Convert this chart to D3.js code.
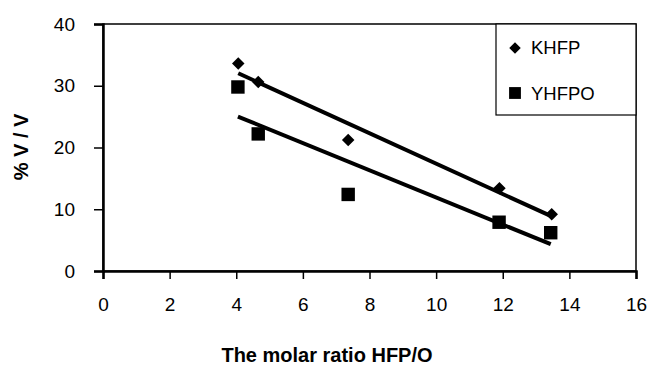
<!DOCTYPE html>
<html><head><meta charset="utf-8">
<script src="https://cdn.jsdelivr.net/npm/d3@7"></script>
<style>body{margin:0;background:#fff}svg{display:block}text{font-family:"Liberation Sans",Arial,sans-serif}</style>
</head><body>
<svg id="c" width="647" height="365"></svg>
<script>
const khfpX = [4.06, 4.66, 7.36, 11.9, 13.47];
const khfpY = [33.6, 30.6, 21.2, 13.4, 9.2];
const yhfpoX = [4.05, 4.66, 7.36, 11.89, 13.44];
const yhfpoY = [29.8, 22.2, 12.4, 7.9, 6.2];
const xTicks = [0,2,4,6,8,10,12,14,16];
const yTicks = [0,10,20,30,40];
const seriesNames = ["KHFP","YHFPO"];

const svg = d3.select("#c");
const L=103, R=636, T=24, B=271;
const x = d3.scaleLinear().domain([0,16]).range([L,R]);
const y = d3.scaleLinear().domain([0,40]).range([B,T]);

// frame
svg.append("rect").attr("x",L).attr("y",T).attr("width",R-L).attr("height",B-T)
  .attr("fill","none").attr("stroke","#000").attr("stroke-width",1.5);

const xa = svg.append("g").attr("transform",`translate(0,${B})`)
  .call(d3.axisBottom(x).tickValues(xTicks).tickSize(8).tickPadding(19).tickFormat(d3.format("d")));
const ya = svg.append("g").attr("transform",`translate(${L},0)`)
  .call(d3.axisLeft(y).tickValues(yTicks).tickSize(9).tickPadding(19).tickFormat(d3.format("d")));
[xa,ya].forEach(a=>{
  a.select(".domain").attr("stroke","#000").attr("stroke-width",2.5);
  a.selectAll(".tick line").attr("stroke","#000").attr("stroke-width",1.5);
  a.selectAll(".tick text").attr("fill","#000").style("font-size","19px");
});

function fit(xs,ys){
  const mx=d3.mean(xs), my=d3.mean(ys);
  let sxy=0,sxx=0;
  xs.forEach((v,i)=>{sxy+=(v-mx)*(ys[i]-my); sxx+=(v-mx)*(v-mx);});
  const b=sxy/sxx, a=my-b*mx;
  const x0=d3.min(xs), x1=d3.max(xs);
  return [[x0,a+b*x0],[x1,a+b*x1]];
}
const line=d3.line().x(d=>x(d[0])).y(d=>y(d[1]));
svg.append("path").attr("d",line(fit(khfpX,khfpY))).attr("stroke","#000").attr("stroke-width",4).attr("fill","none");
svg.append("path").attr("d",line(fit(yhfpoX,yhfpoY))).attr("stroke","#000").attr("stroke-width",4).attr("fill","none");

const diamond=d3.symbol().type(d3.symbolDiamond2).size(100);
const square=d3.symbol().type(d3.symbolSquare).size(180);
svg.selectAll(".k").data(khfpX).enter().append("path")
  .attr("d",diamond).attr("transform",(d,i)=>`translate(${x(d)},${y(khfpY[i])})`).attr("fill","#000");
svg.selectAll(".s").data(yhfpoX).enter().append("path")
  .attr("d",square).attr("transform",(d,i)=>`translate(${x(d)},${y(yhfpoY[i])})`).attr("fill","#000");

// legend
const lg=svg.append("g");
lg.append("rect").attr("x",496).attr("y",T).attr("width",R-496).attr("height",91)
  .attr("fill","#fff").attr("stroke","#000").attr("stroke-width",1.2);
lg.append("path").attr("d",d3.symbol().type(d3.symbolDiamond2).size(85)).attr("transform","translate(515,48)");
lg.append("path").attr("d",d3.symbol().type(d3.symbolSquare).size(140)).attr("transform","translate(515,93)");
lg.append("text").attr("x",531).attr("y",54).style("font-size","18.5px").text(seriesNames[0]);
lg.append("text").attr("x",531).attr("y",99.5).style("font-size","18.5px").text(seriesNames[1]);

svg.append("text").attr("x",327).attr("y",362).attr("text-anchor","middle")
  .style("font-size","20px").style("font-weight","bold").text("The molar ratio HFP/O");
svg.append("text").attr("transform","translate(28,147) rotate(-90)").attr("text-anchor","middle")
  .style("font-size","20px").style("font-weight","bold").text("% V / V");
</script>
</body></html>
